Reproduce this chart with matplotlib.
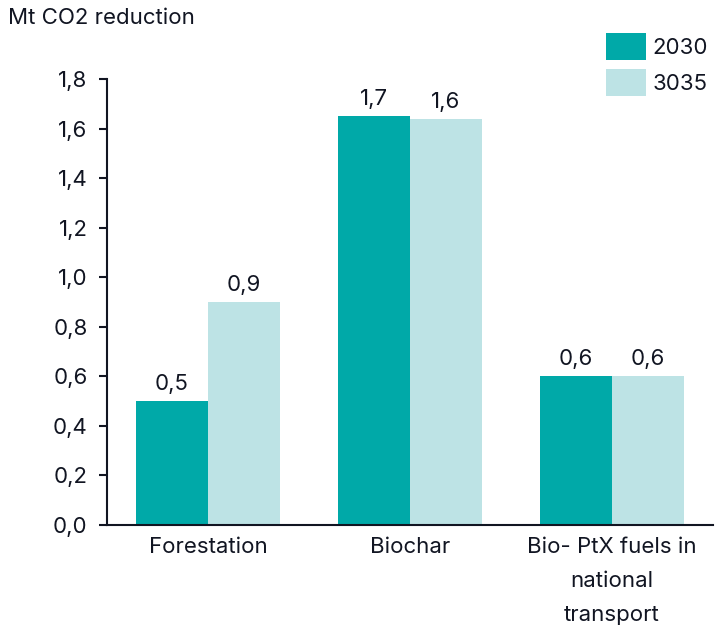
import matplotlib
matplotlib.use("Agg")
import matplotlib.pyplot as plt
import numpy as np

plt.rcParams['font.family'] = ['Inter', 'DejaVu Sans']

# data
categories = ["Forestation", "Biochar", "Bio- PtX fuels in\nnational\ntransport"]
series_names = ["2030", "3035"]
values_2030 = [0.50, 1.65, 0.60]
values_2035 = [0.90, 1.64, 0.60]
labels_2030 = ["0,5", "1,7", "0,6"]
labels_2035 = ["0,9", "1,6", "0,6"]
yticks = [0.0, 0.2, 0.4, 0.6, 0.8, 1.0, 1.2, 1.4, 1.6, 1.8]

dark = "#00A9A8"
light = "#BDE3E5"
txt = "#111522"
fs = 16

fig = plt.figure(figsize=(7.17, 6.27), dpi=100)
ax = fig.add_axes([0.1492, 0.1627, 0.8452, 0.7113])

x = np.arange(len(categories))
w = 0.356
b1 = ax.bar(x - w / 2, values_2030, w, color=dark, label=series_names[0])
b2 = ax.bar(x + w / 2, values_2035, w, color=light, label=series_names[1])

for bars, labs in ((b1, labels_2030), (b2, labels_2035)):
    for r, lab in zip(bars, labs):
        ax.annotate(lab, (r.get_x() + r.get_width() / 2, r.get_height()),
                    xytext=(0, 5), textcoords="offset points",
                    ha="center", va="bottom", fontsize=fs, color=txt)

ax.set_xlim(-0.5, 2.5)
ax.set_ylim(0, 1.8)
ax.set_yticks(yticks)
ax.set_yticklabels([f"{v:.1f}".replace(".", ",") for v in yticks])
ax.set_xticks(x)
ax.set_xticklabels(categories, linespacing=1.85, va="top")

for s in ("top", "right"):
    ax.spines[s].set_visible(False)
for s in ("left", "bottom"):
    ax.spines[s].set_linewidth(1.5)
    ax.spines[s].set_color(txt)
ax.tick_params(axis="y", length=6, width=1.5, color=txt, labelsize=fs,
               labelcolor=txt, pad=8)
ax.tick_params(axis="x", length=0, labelsize=fs, labelcolor=txt, pad=9)

fig.text(0.011, 0.971, "Mt CO2 reduction", fontsize=fs, color=txt,
         ha="left", va="center")

fig.legend(loc="upper right", bbox_to_anchor=(1.0, 0.962), frameon=False,
           fontsize=fs, handlelength=1.8, handleheight=1.5,
           labelspacing=0.4, handletextpad=0.3, borderaxespad=0,
           labelcolor=txt)

fig.savefig("out.png", dpi=100)
